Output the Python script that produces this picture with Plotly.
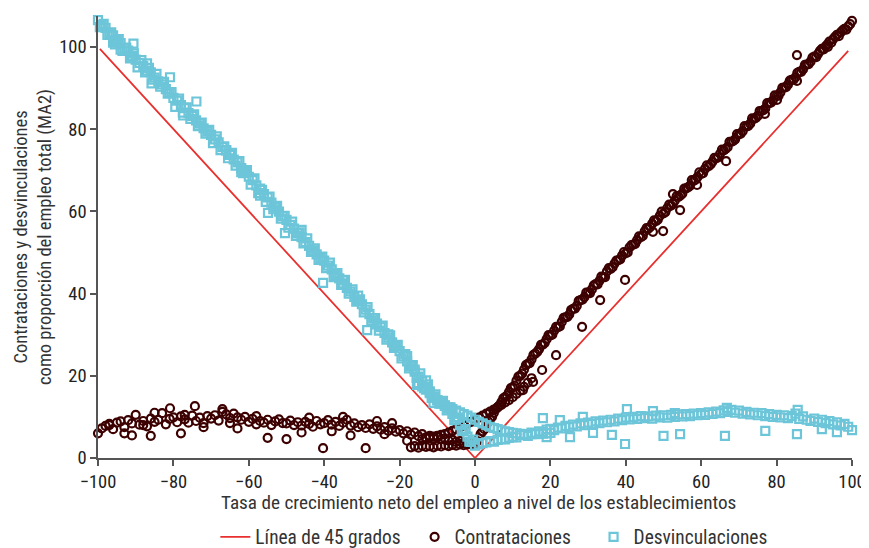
import plotly.graph_objects as go

FONT = "Liberation Sans Narrow, Roboto Condensed, Arial Narrow, sans-serif"

# ---- 45-degree reference line ----
line_x = [-99.5, 0, 99]
line_y = [99.5, 0, 99]

# ---- Contrataciones: main band, x = -100 .. 100 ----
hires_x = list(range(-100, 101))
hires_y = [
    6.0, 7.2, 7.8, 8.3, 7.0, 8.6, 8.9, 7.5, 9.2, 8.4,
    10.5, 8.1, 9.0, 7.7, 9.6, 8.8, 9.3, 10.9, 8.2, 9.5,
    9.9, 8.7, 10.1, 9.4, 8.6, 10.3, 9.0, 9.8, 8.5, 10.2,
    9.6, 10.4, 9.1, 11.2, 10.6, 9.7, 10.8, 9.9, 9.3, 10.0,
    8.8, 9.5, 8.2, 9.0, 8.6, 9.3, 8.0, 8.9, 9.4, 8.5,
    8.4, 9.1, 8.0, 8.7, 7.9, 8.8, 8.3, 7.6, 9.0, 8.2,
    8.5, 9.2, 8.1, 8.8, 7.8, 8.6, 9.3, 7.9, 8.4, 7.5,
    8.0, 7.3, 8.2, 7.1, 7.7, 6.9, 7.5, 6.6, 7.2, 6.4,
    6.8, 6.0, 6.5, 5.7, 6.2, 5.3, 5.8, 5.0, 5.4, 4.7,
    5.1, 4.5, 4.8, 4.2, 4.4, 3.9, 4.1, 3.6, 3.8, 3.4,
    3.3,
    4.8, 6.5, 8.0, 9.4, 11.0, 12.3, 13.6, 14.8, 16.0, 17.2,
    18.8, 20.0, 21.5, 22.9, 24.0, 25.4, 26.5, 27.6, 28.9, 29.8,
    31.0, 31.8, 33.1, 34.2, 34.9, 36.3, 37.0, 38.4, 39.1, 40.2,
    41.0, 42.3, 43.1, 44.0, 45.4, 46.0, 47.3, 48.1, 49.2, 49.8,
    51.2, 51.9, 53.0, 53.7, 55.1, 55.8, 57.0, 57.6, 58.9, 59.5,
    60.8, 61.4, 62.6, 63.5, 64.3, 65.6, 66.2, 67.4, 68.3, 69.1,
    70.3, 71.0, 72.1, 72.9, 74.0, 74.8, 75.6, 76.9, 77.5, 78.7,
    79.5, 80.6, 81.3, 82.5, 83.2, 84.4, 85.0, 86.3, 87.0, 88.1,
    88.9, 90.1, 90.8, 92.0, 92.6, 93.9, 94.5, 95.7, 96.4, 97.6,
    98.3, 99.5, 100.1, 101.3, 101.9, 102.9, 103.5, 104.4, 105.0, 106.3,
]
# second layer of observations on the rising branch, x = 0.5 .. 99.5
hires_half_x = [i + 0.5 for i in range(0, 100)]
hires_half_y = [
    4.0, 5.9, 7.0, 8.9, 10.0, 11.9, 12.8, 14.5, 15.2, 17.0,
    17.6, 19.8, 20.5, 22.6, 23.1, 25.1, 25.8, 27.5, 28.0, 29.9,
    30.0, 31.9, 32.0, 34.1, 34.3, 36.0, 36.3, 38.2, 38.5, 40.2,
    40.1, 42.0, 42.2, 44.1, 44.0, 46.2, 46.4, 48.0, 48.3, 50.1,
    50.0, 51.8, 52.1, 53.9, 54.0, 55.9, 56.2, 57.8, 58.0, 59.9,
    59.8, 61.6, 61.8, 63.7, 63.9, 65.5, 65.8, 67.6, 67.7, 69.5,
    69.3, 71.2, 71.4, 73.0, 73.1, 75.0, 75.2, 76.9, 77.1, 78.8,
    78.9, 80.7, 80.8, 82.6, 82.7, 84.4, 84.6, 86.3, 86.4, 88.2,
    88.1, 90.0, 90.2, 91.8, 92.0, 93.7, 93.9, 95.6, 95.8, 97.4,
    97.5, 99.0, 99.4, 100.6, 101.0, 102.4, 102.6, 104.0, 104.2, 105.5,
]
# scattered additional observations
hires_extra_x = [-97, -93, -91, -88, -86, -85, -80.9, -78, -77, -74.3, -72, -67, -65, -63, -58,
                 -55, -50, -46, -44, -40.3, -38, -35, -33, -29, -26, -24, -22, -18,
                 12.7, 15.4, 17.8, 21.5, 28.4, 33.2, 39.8, 47.2, 49.9, 52.5, 54.4, 58.9,
                 66.6, 76.9, 80.1, 85.4, 85.4, 93.6]
hires_extra_y = [8.0, 6.0, 5.5, 8.0, 5.4, 11.0, 12.1, 6.0, 10.5, 12.6, 7.5, 11.9, 8.5, 7.2, 10.2,
                 4.9, 4.6, 6.2, 9.8, 2.4, 6.5, 10.0, 5.5, 2.4, 9.0, 5.8, 8.5, 4.2,
                 16.5, 18.5, 21.4, 25.0, 31.9, 38.4, 43.3, 55.0, 55.2, 64.2, 60.3, 66.4,
                 72.2, 83.7, 87.1, 91.7, 98.0, 100.0]
# dense arc of small-growth establishments
hires_arc_x = [-14, -13, -12, -11, -10, -9, -8, -7, -6, -5, -4, -3, -2, -1, 0,
               1, 2, 3, 4, 5, 6, 7, 8, 9, 10, 11, 12, 13, 14, 15]
hires_arc_y = [4.6, 4.8, 5.0, 5.2, 5.4, 5.6, 5.8, 6.2, 6.6, 7.0, 7.5, 7.9, 8.4, 8.8, 9.3,
               9.8, 10.3, 10.8, 11.3, 11.8, 12.4, 12.9, 13.5, 14.1, 14.8, 15.6, 16.4, 17.3, 18.3, 19.4]
hires_low_x = [-17, -16, -15, -14, -13, -12, -11, -10, -9, -8, -7, -6, -5, -4, -3, -2, -1]
hires_low_y = [2.6, 2.9, 2.5, 3.0, 2.7, 2.9, 2.6, 3.0, 2.8, 3.1, 2.9, 3.2, 3.0, 3.3, 3.1, 3.3, 3.4]

# ---- Desvinculaciones: main band, x = -100 .. 100 ----
sep_x = list(range(-100, 101))
sep_y = [
    106.5, 105.3, 104.6, 103.2, 102.8, 101.4, 100.9, 99.6, 99.1, 97.8,
    96.9, 96.1, 95.4, 94.2, 93.8, 92.5, 91.6, 90.9, 89.7, 88.8,
    87.6, 86.9, 85.8, 85.1, 83.9, 83.2, 82.1, 81.3, 80.2, 79.4,
    78.6, 77.5, 76.8, 75.6, 74.9, 73.7, 72.6, 71.9, 70.5, 69.8,
    68.4, 67.6, 66.3, 65.5, 64.2, 63.4, 62.1, 61.0, 59.9, 58.8,
    57.9, 56.7, 55.8, 54.6, 53.7, 52.5, 51.6, 50.4, 49.5, 48.6,
    48.0, 46.8, 45.9, 44.6, 43.7, 42.5, 41.4, 40.5, 39.2, 38.3,
    37.4, 36.1, 35.0, 33.9, 32.7, 31.8, 30.4, 29.3, 28.1, 27.2,
    26.0, 24.7, 23.5, 22.3, 21.0, 19.8, 18.6, 17.3, 16.2, 14.9,
    14.0, 13.4, 12.8, 12.0, 10.7, 9.3, 8.0, 6.6, 5.2, 3.9,
    3.0,
    3.3, 3.6, 3.8, 4.1, 4.0, 4.4, 4.6, 4.5, 4.9, 5.2,
    5.0, 5.6, 5.8, 5.4, 6.2, 6.0, 6.5, 6.3, 6.9, 7.1,
    6.8, 7.4, 7.2, 7.8, 7.5, 8.1, 7.7, 8.4, 8.0, 8.6,
    8.3, 8.9, 8.5, 9.1, 8.7, 9.3, 8.9, 9.6, 9.2, 9.8,
    9.4, 10.0, 9.5, 10.2, 9.7, 10.1, 9.6, 10.3, 9.9, 10.4,
    9.8, 10.5, 10.0, 10.6, 10.1, 10.7, 10.2, 10.8, 10.4, 10.9,
    10.5, 11.1, 10.7, 11.3, 10.9, 11.6, 11.2, 11.7, 11.0, 11.5,
    10.8, 11.2, 10.6, 11.0, 10.4, 10.9, 10.2, 10.7, 10.0, 10.5,
    9.9, 10.4, 9.7, 10.2, 10.8, 9.5, 10.1, 9.3, 9.0, 9.6,
    8.8, 9.3, 8.5, 9.0, 8.2, 8.7, 7.9, 8.3, 7.6, 6.8,
]
# second layer of observations on the falling branch, x = -99.5 .. -0.5
sep_half_x = [i + 0.5 for i in range(-100, 0)]
sep_half_y = [
    104.8, 105.6, 102.9, 103.5, 100.6, 101.9, 99.0, 99.8, 97.2, 98.4,
    95.0, 96.8, 93.8, 94.9, 92.0, 93.4, 90.3, 91.5, 88.6, 89.0,
    85.4, 87.4, 84.0, 85.3, 82.5, 83.6, 80.7, 81.6, 78.9, 79.8,
    76.6, 78.2, 74.9, 75.8, 72.9, 74.2, 71.1, 72.2, 69.3, 70.0,
    66.5, 68.0, 64.4, 65.2, 62.3, 63.6, 60.5, 61.3, 58.2, 58.9,
    56.0, 57.5, 54.0, 54.9, 52.2, 53.4, 50.1, 51.0, 48.2, 49.0,
    46.2, 47.5, 44.0, 45.0, 42.1, 43.3, 40.0, 41.0, 38.0, 38.6,
    35.4, 36.7, 33.3, 34.0, 31.0, 32.2, 28.8, 29.8, 26.8, 27.5,
    24.2, 25.3, 21.8, 22.6, 19.5, 20.6, 17.0, 17.9, 14.6, 15.5,
    13.2, 13.9, 11.6, 12.3, 9.2, 9.8, 6.6, 7.0, 4.0, 4.5,
]
sep_extra_x = [-96, -94, -91.5, -90.6, -87, -85.8, -80.9, -77.4, -73.9, -66, -62, -57, -54.9,
               -50.4, -46, -43, -40.3, -37, -35, -31, -28.6, -26, -23, -18, -16, -15.4, -13, -11,
               10, 18, 19, 22.5, 25.2, 28.6, 31.3, 36.3, 39.8, 40.3, 47.2, 50, 53, 54.4, 66.3,
               66.8, 77, 85.4, 85.6, 92, 96]
sep_extra_y = [101.0, 99.3, 97.3, 100.8, 96.0, 91.1, 92.6, 83.3, 86.7, 74.8, 69.5, 63.8, 59.6,
               54.7, 55.5, 50.5, 42.6, 44.5, 43.2, 39.5, 31.1, 32.5, 30.1, 24.8, 21.5, 17.8, 18.9, 13.4,
               5.1, 9.7, 5.1, 9.2, 5.1, 10.0, 6.1, 5.6, 3.4, 11.9, 11.4, 5.4, 10.9, 5.8, 5.4,
               12.2, 6.6, 5.8, 11.7, 7.0, 6.3]
sep_arc_x = [-15, -14, -13, -12, -11, -10, -9, -8, -7, -6, -5, -4, -3, -2, -1, 0,
             1, 2, 3, 4, 5, 6, 7, 8, 9, 10, 11, 12, 13, 14, 15, 16, 17, 18, 19, 20]
sep_arc_y = [18.2, 17.4, 16.6, 15.8, 15.0, 14.1, 13.2, 12.7, 12.3, 11.9, 11.5, 11.1, 10.7, 10.3, 9.8, 9.3,
             8.8, 8.4, 8.0, 7.6, 7.3, 7.0, 6.7, 6.5, 6.3, 6.1, 6.0, 5.9, 5.8, 5.8, 5.8, 5.8, 5.9, 5.9, 6.0, 6.1]

RED = "#E8312F"
DARK = "#3D0000"
BLUE = "#6CC5D8"
NB = "\u00a0"  # non-breaking space used for legend spacing

fig = go.Figure()
fig.add_trace(go.Scatter(x=line_x, y=line_y, mode="lines", name="Línea de 45 grados" + NB * 2,
                         line=dict(color=RED, width=1.8), cliponaxis=False))

circ = dict(symbol="circle-open", size=8, color=DARK, line=dict(width=2.2, color=DARK))
sq = dict(symbol="square-open", size=8, color=BLUE, line=dict(width=2.2, color=BLUE))

fig.add_trace(go.Scatter(x=hires_x + hires_half_x + hires_extra_x + hires_arc_x + hires_low_x,
                         y=hires_y + hires_half_y + hires_extra_y + hires_arc_y + hires_low_y,
                         mode="markers", name="Contrataciones" + NB * 4, marker=circ, cliponaxis=False))
fig.add_trace(go.Scatter(x=sep_x + sep_half_x + sep_extra_x + sep_arc_x,
                         y=sep_y + sep_half_y + sep_extra_y + sep_arc_y,
                         mode="markers", name="Desvinculaciones", marker=sq, cliponaxis=False))

axis_common = dict(showgrid=False, zeroline=False, showline=True, linecolor="#555555", linewidth=1.5,
                   ticks="outside", ticklen=6, tickwidth=1.5, tickcolor="#555555", automargin=False,
                   tickfont=dict(family=FONT, size=18.5, color="#222222"))

XTITLE = "Tasa de crecimiento neto del empleo a nivel de los establecimientos"
YTITLE = "Contrataciones y desvinculaciones<br>como proporción del empleo total (MA2)"

# page body has an 8px default margin, so the figure is sized 8px smaller
fig.update_layout(
    width=861, height=540,
    margin=dict(l=90, r=17, t=8, b=90),
    paper_bgcolor="white", plot_bgcolor="white",
    font=dict(family=FONT, size=19.4, color="#333333"),
    showlegend=True,
    legend=dict(orientation="h", x=0.525, xanchor="center", yref="container", y=0.02, yanchor="middle",
                font=dict(family=FONT, size=19.4, color="#333333"), itemwidth=30,
                traceorder="normal"),
    xaxis=dict(range=[-100, 100], tickvals=[-100, -80, -60, -40, -20, 0, 20, 40, 60, 80, 100],
               **axis_common),
    yaxis=dict(range=[0, 107.5], tickvals=[0, 20, 40, 60, 80, 100],
               title=dict(text=YTITLE, font=dict(family=FONT, size=18.5, color="#333333"), standoff=3),
               **axis_common),
    annotations=[dict(text=XTITLE, xref="paper", yref="paper", x=0.505, y=-0.1,
                      xanchor="center", yanchor="middle", showarrow=False,
                      font=dict(family=FONT, size=19.2, color="#333333"))],
)

fig.write_html("out.html")
